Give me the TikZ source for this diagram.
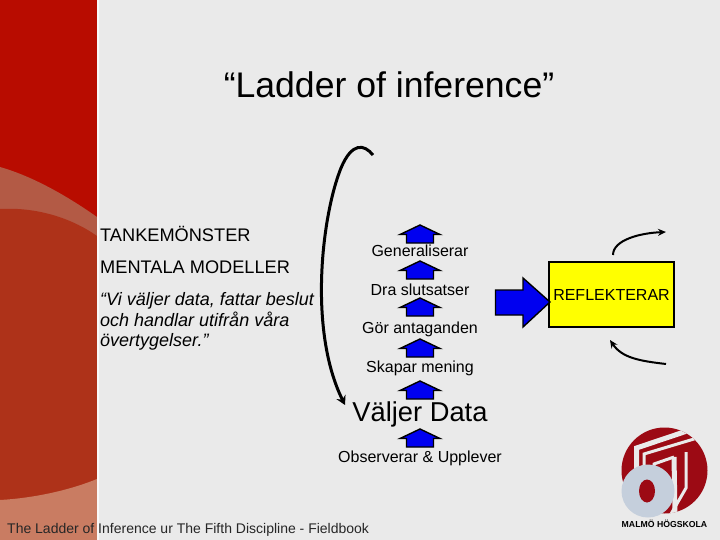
\documentclass[tikz,border=0pt]{standalone}
\usepackage{fontspec}
\setmainfont{Liberation Sans}
\usetikzlibrary{arrows.meta}
\definecolor{bg}{HTML}{EAEAEA}
\definecolor{redtop}{HTML}{B80C00}
\definecolor{redmid}{HTML}{B35A45}
\definecolor{redlow}{HTML}{AE3219}
\definecolor{redfoot}{HTML}{C97C62}
\definecolor{bluefill}{HTML}{0000F0}
\definecolor{lemon}{HTML}{FFFF00}
\definecolor{logored}{HTML}{9C0A14}
\definecolor{logoring}{HTML}{C5CFDC}
\tikzset{
  lbl/.style={inner sep=0pt,anchor=center,font=\fontsize{16}{16}\selectfont,text=black},
  txt/.style={inner sep=0pt,anchor=base west,font=\fontsize{18.2}{18.2}\selectfont},
  uparrow/.style={draw=black,line width=1.4pt,fill=bluefill,line join=miter},
  curve/.style={draw=black,line width=2pt,-{Stealth[length=8pt,width=7pt]}},
  logoline/.style={draw=bg}
}
\newcommand{\uparr}[1]{\draw[uparrow,shift={(420,#1)}] (0,0) -- (20,9.5) -- (13.5,9.5) -- (13.5,18) -- (-13.5,18) -- (-13.5,9.5) -- (-20,9.5) -- cycle;}
\begin{document}
\begin{tikzpicture}[x=1pt,y=-1pt]
\useasboundingbox (0,0) rectangle (720,540);
\fill[bg] (0,0) rectangle (720,540);
\fill[redtop] (0,0) rectangle (97,540);
\fill[redmid] (0,167) .. controls (35,177) and (70,198) .. (97,217) -- (97,540) -- (0,540) -- cycle;
\fill[redlow] (0,209) .. controls (35,207) and (70,217) .. (97,236) -- (97,540) -- (0,540) -- cycle;
\fill[redfoot] (0,500) .. controls (35,498) and (70,490) .. (97,479) -- (97,540) -- (0,540) -- cycle;
\fill[white!70!bg] (97,0) rectangle (99,540);
\node[inner sep=0pt,font=\fontsize{35.6}{35.6}\selectfont] (title) at (389,85) {“Ladder of inference”};
\node[txt] (tank) at (100,241) {TANKEMÖNSTER};
\node[txt] (ment) at (100,273) {MENTALA MODELLER};
\node[txt,anchor=north west,align=left,font=\fontsize{18}{20.8}\selectfont\itshape] (quote) at (100,292) {“Vi väljer data, fattar beslut\\och handlar utifrån våra\\övertygelser.”};
\foreach \y in {225,261,298,339,381,429}{\uparr{\y}}
\node[lbl] (gen) at (420,251) {Generaliserar};
\node[lbl] (dra) at (420,290) {Dra slutsatser};
\node[lbl] (gor) at (420,329) {Gör antaganden};
\node[lbl] (ska) at (420,368) {Skapar mening};
\node[lbl,font=\fontsize{27.3}{27.3}\selectfont] (val) at (420,414) {Väljer Data};
\node[lbl] (obs) at (420,458) {Observerar \& Upplever};
\coordinate (ctop) at (373,155);
\coordinate (cbot) at (345,405);
\draw[curve,line width=3pt,-{Stealth[length=9pt,width=10pt]}] (ctop) .. controls (364,144) and (352,142) .. (341,168) .. controls (322,215) and (308,330) .. (cbot);
\node[draw=black,line width=1.6pt,fill=lemon,minimum width=125pt,minimum height=65pt,inner sep=0pt,font=\fontsize{16}{16}\selectfont,text=black] (refl) at (611.5,294.5) {REFLEKTERAR};
\draw[uparrow] (550,302) -- (523,327) -- (523,315) -- (495.5,315) -- (495.5,290) -- (523,290) -- (523,278) -- cycle;
\coordinate (a1) at (613,255);
\coordinate (a2) at (666,232);
\draw[curve] (a1) .. controls (613,240) and (640,233) .. (a2);
\coordinate (b1) at (666,364);
\coordinate (b2) at (610,340);
\draw[curve] (b1) .. controls (640,361) and (622,358) .. (b2);
\node[inner sep=0pt,anchor=base west,font=\fontsize{14}{14}\selectfont,text=black!85] (foot) at (7,533) {The Ladder of Inference ur The Fifth Discipline - Fieldbook};
% logo
\fill[logored] (664.5,470.5) circle (43);
\begin{scope}
\clip (664.5,470.5) circle (43);
\draw[logoline,line width=5pt] (636.5,472) -- (636.5,448) -- (690,430);
\draw[logoline,line width=3pt] (644,472) -- (644,454) -- (704,436);
\draw[logoline,line width=3pt] (654,472) -- (654,464) -- (674,457);
\draw[logoline,line width=5pt] (674,457) -- (675,514);
\draw[logoline,line width=3pt] (686,452) -- (686,488) -- (671,514);
\end{scope}
\fill[logoring] (648,491) circle (26.5);
\fill[logored] (647,491) ellipse (8 and 11.5);
\node[inner sep=0pt,font=\bfseries\fontsize{8.7}{8.7}\selectfont] (logo) at (664.5,524) {MALMÖ HÖGSKOLA};
\end{tikzpicture}
\end{document}
